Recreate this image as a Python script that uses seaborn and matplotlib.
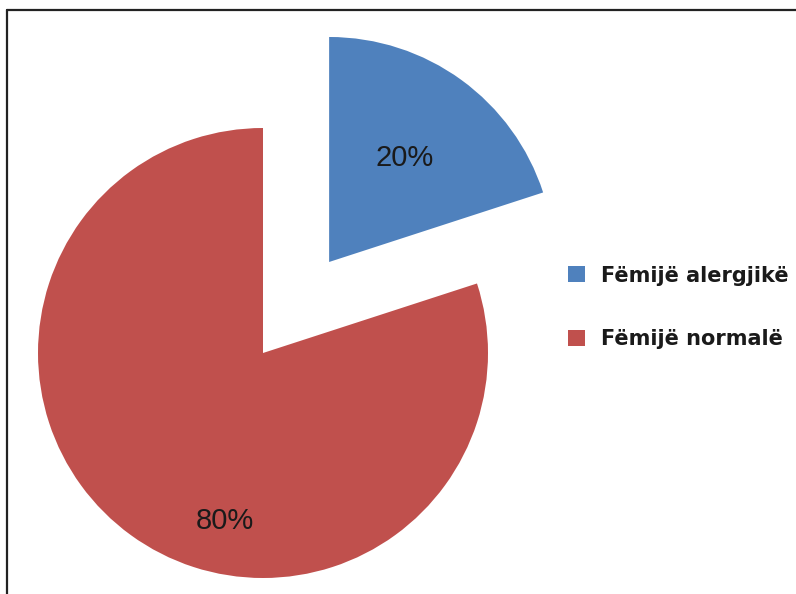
import matplotlib
matplotlib.use("Agg")
import matplotlib.pyplot as plt
from matplotlib.lines import Line2D
from matplotlib.patches import Patch
import seaborn as sns

categories = ["Fëmijë alergjikë", "Fëmijë normalë"]
values = [20, 80]
colors = ["#4F81BD", "#C0504D"]

sns.set_theme(style="white")
plt.rcParams["font.family"] = ["Liberation Sans", "DejaVu Sans"]

W, H = 796, 594
fig = plt.figure(figsize=(W / 100, H / 100), dpi=100)
ax = fig.add_axes([0, 0, 1, 1])

R = 225.0  # px per unit
cx, cy = 263.0, 353.0  # pie center in px (from top)

wedges, texts, autotexts = ax.pie(
    values, colors=colors, startangle=90, counterclock=False,
    explode=[0.5, 0], autopct=lambda p: f"{p:.0f}%", pctdistance=0.57,
    wedgeprops=dict(linewidth=0), textprops=dict(fontsize=21, color="#1a1a1a"))

# move the 80% label to where it sits in the reference
autotexts[1].set_position(((225 - cx) / R, (cy - 521) / R))

ax.set_xlim(-cx / R, (W - cx) / R)
ax.set_ylim(-(H - cy) / R, cy / R)
ax.set_aspect("auto")
ax.axis("off")

handles = [Patch(facecolor=c, edgecolor="none") for c in colors]
leg = fig.legend(handles, categories, loc="center left",
                 bbox_to_anchor=(568 / W, (H - 307.5) / H), bbox_transform=fig.transFigure,
                 frameon=False, borderpad=0, borderaxespad=0,
                 prop=dict(family="DejaVu Sans", size=15, weight="bold"),
                 handlelength=0.8, handleheight=0.8, handletextpad=0.78,
                 labelspacing=2.1)
for t in leg.get_texts():
    t.set_color("#1a1a1a")

# border lines (left and top)
fig.add_artist(Line2D([7.5 / W, 7.5 / W], [0, (H - 10) / H], transform=fig.transFigure,
                      color="#222222", linewidth=1.6))
fig.add_artist(Line2D([7.5 / W, 1], [(H - 10) / H, (H - 10) / H], transform=fig.transFigure,
                      color="#222222", linewidth=1.6))

fig.savefig("out.png", dpi=100)
